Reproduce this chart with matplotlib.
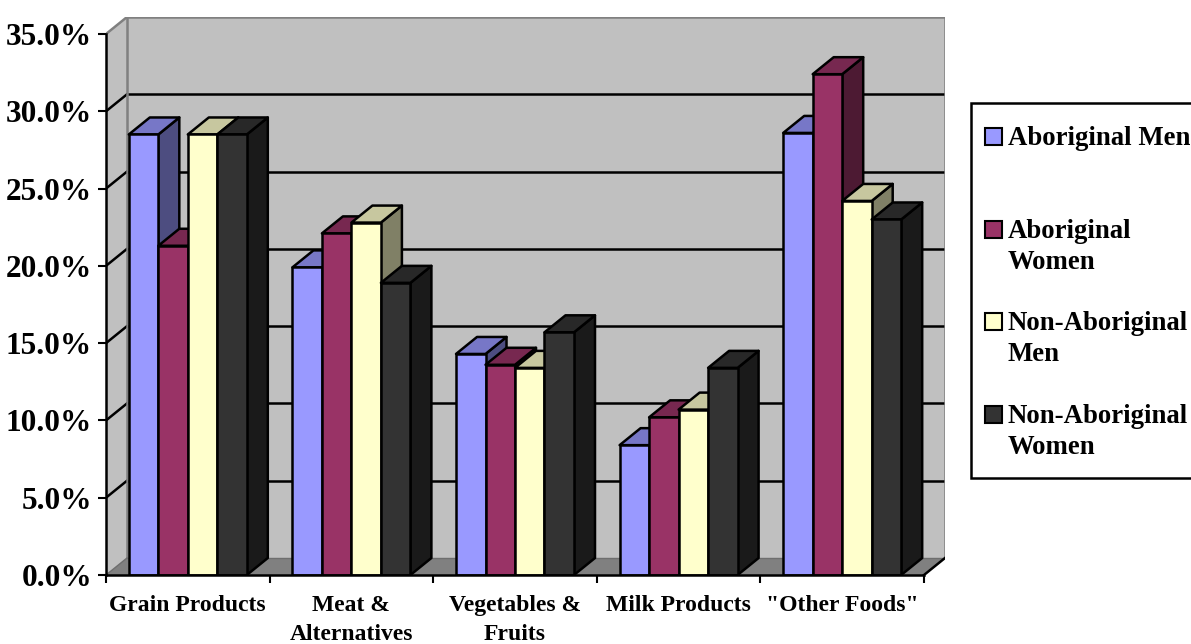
import matplotlib
matplotlib.use("Agg")
import matplotlib.pyplot as plt
from matplotlib.patches import Rectangle, Polygon
from matplotlib.lines import Line2D
from matplotlib.transforms import blended_transform_factory

# ---- data -------------------------------------------------------------
categories = ["Grain Products", "Meat &\nAlternatives", "Vegetables &\nFruits",
              "Milk Products", "\"Other Foods\""]
series_names = ["Aboriginal Men", "Aboriginal\nWomen", "Non-Aboriginal\nMen",
                "Non-Aboriginal\nWomen"]
aboriginal_men = [28.5, 19.9, 14.3, 8.4, 28.6]
aboriginal_women = [21.3, 22.1, 13.6, 10.2, 32.4]
non_aboriginal_men = [28.5, 22.8, 13.4, 10.7, 24.2]
non_aboriginal_women = [28.5, 18.9, 15.7, 13.4, 23.0]
y_ticks = [0, 5, 10, 15, 20, 25, 30, 35]
y_tick_labels = ["0.0%", "5.0%", "10.0%", "15.0%", "20.0%", "25.0%", "30.0%", "35.0%"]

series = [aboriginal_men, aboriginal_women, non_aboriginal_men, non_aboriginal_women]
front_colors = ["#9999FF", "#993366", "#FFFFCC", "#333333"]


def shade(hex_color, f):
    r, g, b = matplotlib.colors.to_rgb(hex_color)
    return (r * f, g * f, b * f)


# ---- figure / axes ----------------------------------------------------
W, H = 1191, 644
fig = plt.figure(figsize=(W / 100, H / 100), dpi=100)
fig.patch.set_facecolor("white")

FONT = "Liberation Serif"

# axes covers the front plane plus the depth of the 3-D box
ax_left, ax_right, ax_top, ax_bottom = 106, 945, 17, 575
ax = fig.add_axes([ax_left / W, 1 - ax_bottom / H,
                   (ax_right - ax_left) / W, (ax_bottom - ax_top) / H])
n_cat = len(categories)
YMAX = 35
DX = 0.1284   # depth offset in category units
DY = 1.10     # depth offset in percent units
ax.set_xlim(0, n_cat + DX)
ax.set_ylim(0, YMAX + DY)
ax.set_facecolor("none")
for s in ax.spines.values():
    s.set_visible(False)

LW = 1.8
WALL = "#C0C0C0"
EDGE_GRAY = "#808080"

# back wall
ax.add_patch(Rectangle((DX, DY), n_cat, YMAX, facecolor=WALL, edgecolor="none", zorder=1))
# side wall
ax.add_patch(Polygon([(0, 0), (DX, DY), (DX, YMAX + DY), (0, YMAX)],
                     closed=True, facecolor=WALL, edgecolor="none", zorder=1))
# floor
ax.add_patch(Polygon([(0, 0), (n_cat, 0), (n_cat + DX, DY), (DX, DY)],
                     closed=True, facecolor="#808080", edgecolor="none", zorder=1))

# gridlines on back wall and diagonals on side wall
for v in y_ticks[1:]:
    if v < YMAX:
        ax.add_line(Line2D([DX, n_cat + DX], [v + DY, v + DY], color="black", lw=LW, zorder=2))
        ax.add_line(Line2D([0, DX], [v, v + DY], color="black", lw=LW, zorder=2))
ax.add_line(Line2D([0, DX], [YMAX, YMAX + DY], color=EDGE_GRAY, lw=LW, zorder=2))

# wall edges
ax.add_line(Line2D([DX, n_cat + DX, n_cat + DX], [YMAX + DY, YMAX + DY, DY],
                   color=EDGE_GRAY, lw=LW, zorder=2))
ax.add_line(Line2D([DX, DX], [DY, YMAX + DY], color=EDGE_GRAY, lw=LW, zorder=2))
ax.add_line(Line2D([DX, n_cat + DX], [DY, DY], color="#6E6E6E", lw=1.0, zorder=2))
ax.add_line(Line2D([0, DX], [0, DY], color="#6E6E6E", lw=1.0, zorder=2))
ax.add_line(Line2D([n_cat, n_cat + DX], [0, DY], color="black", lw=LW, zorder=2))

# ---- 3-D bars ---------------------------------------------------------
bw = 0.1803
n_ser = len(series)
z = 3
for i in range(n_cat):
    x0 = i + 0.5 - n_ser * bw / 2
    for j in range(n_ser):
        v = series[j][i]
        xl = x0 + j * bw
        xr = xl + bw
        col = front_colors[j]
        side = Polygon([(xr, 0), (xr + DX, DY), (xr + DX, v + DY), (xr, v)], closed=True,
                       facecolor=shade(col, 0.5), edgecolor="black", lw=LW, zorder=z,
                       joinstyle="round")
        top = Polygon([(xl, v), (xl + DX, v + DY), (xr + DX, v + DY), (xr, v)], closed=True,
                      facecolor=shade(col, 0.78), edgecolor="black", lw=LW, zorder=z,
                      joinstyle="round")
        front = Rectangle((xl, 0), bw, v, facecolor=col, edgecolor="black", lw=LW,
                          zorder=z, joinstyle="round")
        ax.add_patch(side)
        ax.add_patch(top)
        ax.add_patch(front)
        z += 1

# front axes
ax.add_line(Line2D([0, 0], [0, YMAX], color="black", lw=LW, zorder=z + 1, clip_on=False))
ax.add_line(Line2D([0, n_cat], [0, 0], color="black", lw=LW, zorder=z + 1, clip_on=False))

# ticks
ax.set_yticks(y_ticks, y_tick_labels)
ax.set_xticks(range(n_cat + 1), [""] * (n_cat + 1))
ax.tick_params(axis="y", direction="out", length=6, width=1.5, pad=4,
               labelsize=22.5)
ax.tick_params(axis="x", direction="out", length=6, width=1.5)
for lab in ax.get_yticklabels():
    lab.set_fontfamily(FONT)
    lab.set_fontweight("bold")

# category labels (one text per line)
trans = blended_transform_factory(ax.transData, fig.transFigure)
for i, name in enumerate(categories):
    for k, line in enumerate(name.split("\n")):
        ax.text(i + 0.5, 1 - (611 + 29 * k) / H, line, transform=trans,
                ha="center", va="baseline", fontsize=17, fontweight="bold",
                family=FONT, clip_on=False)

# ---- legend -----------------------------------------------------------
def fx(px):
    return px / W


def fy(py):
    return 1 - py / H


fig.patches.append(Rectangle((fx(971), fy(478)), fx(1300) - fx(971), fy(103) - fy(478),
                             transform=fig.transFigure, facecolor="white",
                             edgecolor="black", lw=LW, zorder=1))
entry_baselines = [145, 238, 330, 423]
for name, col, base in zip(series_names, front_colors, entry_baselines):
    fig.patches.append(Rectangle((fx(985), fy(base)), fx(1002) - fx(985), fy(base - 17) - fy(base),
                                 transform=fig.transFigure, facecolor=col,
                                 edgecolor="black", lw=1.5, zorder=2))
    for k, line in enumerate(name.split("\n")):
        fig.text(fx(1008), fy(base + 31 * k), line, ha="left", va="baseline",
                 fontsize=19.3, fontweight="bold", family=FONT, zorder=3)

fig.savefig("out.png", dpi=100)
